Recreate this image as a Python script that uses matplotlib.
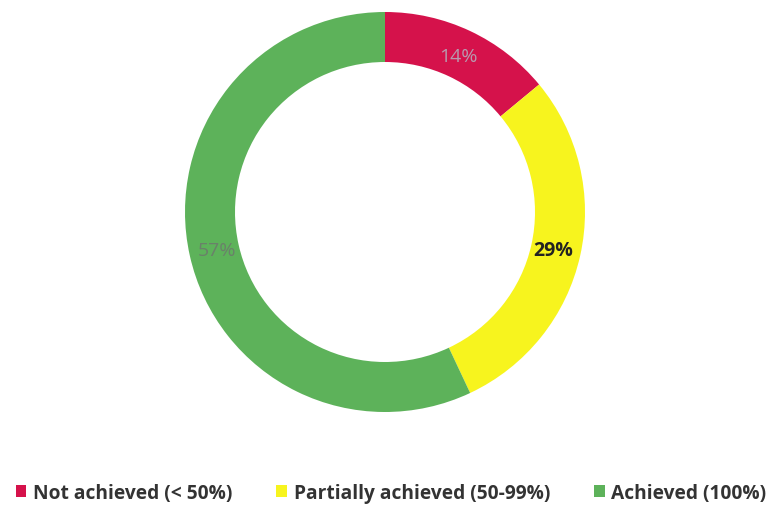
import matplotlib
matplotlib.use("Agg")
import matplotlib.pyplot as plt
from matplotlib.patches import Patch

categories = ["Not achieved (< 50%)", "Partially achieved (50-99%)", "Achieved (100%)"]
shares = [14, 29, 57]
colors = ["#D5124B", "#F7F41E", "#5DB25A"]
label_colors = ["#B89AAE", "#222222", "#6A806A"]
label_weights = ["normal", "bold", "normal"]

plt.rcParams["font.family"] = ["Open Sans", "DejaVu Sans"]

W, H = 773, 506
fig = plt.figure(figsize=(W / 100, H / 100), dpi=100)
fig.patch.set_facecolor("white")

# donut: centre ~ (385, 213) px, outer radius 200 px
cx, cy, r = 385, 213, 200
ax = fig.add_axes([(cx - r) / W, (H - cy - r) / H, 2 * r / W, 2 * r / H])
wedges, texts = ax.pie(
    shares, colors=colors, startangle=90, counterclock=False, radius=1.0,
    wedgeprops=dict(width=0.25, edgecolor="none"),
    labels=[f"{v}%" for v in shares], labeldistance=0.86,
)
for t, c, w in zip(texts, label_colors, label_weights):
    t.set_color(c)
    t.set_fontweight(w)
    t.set_fontsize(14)
    t.set_ha("center")
    t.set_va("center")
ax.set_xlim(-1, 1)
ax.set_ylim(-1, 1)
ax.set_aspect("equal")
ax.axis("off")

handles = [Patch(facecolor=c, edgecolor="none") for c in colors]
fig.legend(
    handles, categories, loc="center", bbox_to_anchor=(391 / W, 1 - 494 / H),
    ncol=3, frameon=False, handlelength=0.55, handleheight=0.55, handletextpad=0.35,
    columnspacing=2.3, borderpad=0.1, prop=dict(size=13.8, weight="bold"),
    labelcolor="#333333",
)

fig.savefig("out.png", dpi=100, facecolor="white")
